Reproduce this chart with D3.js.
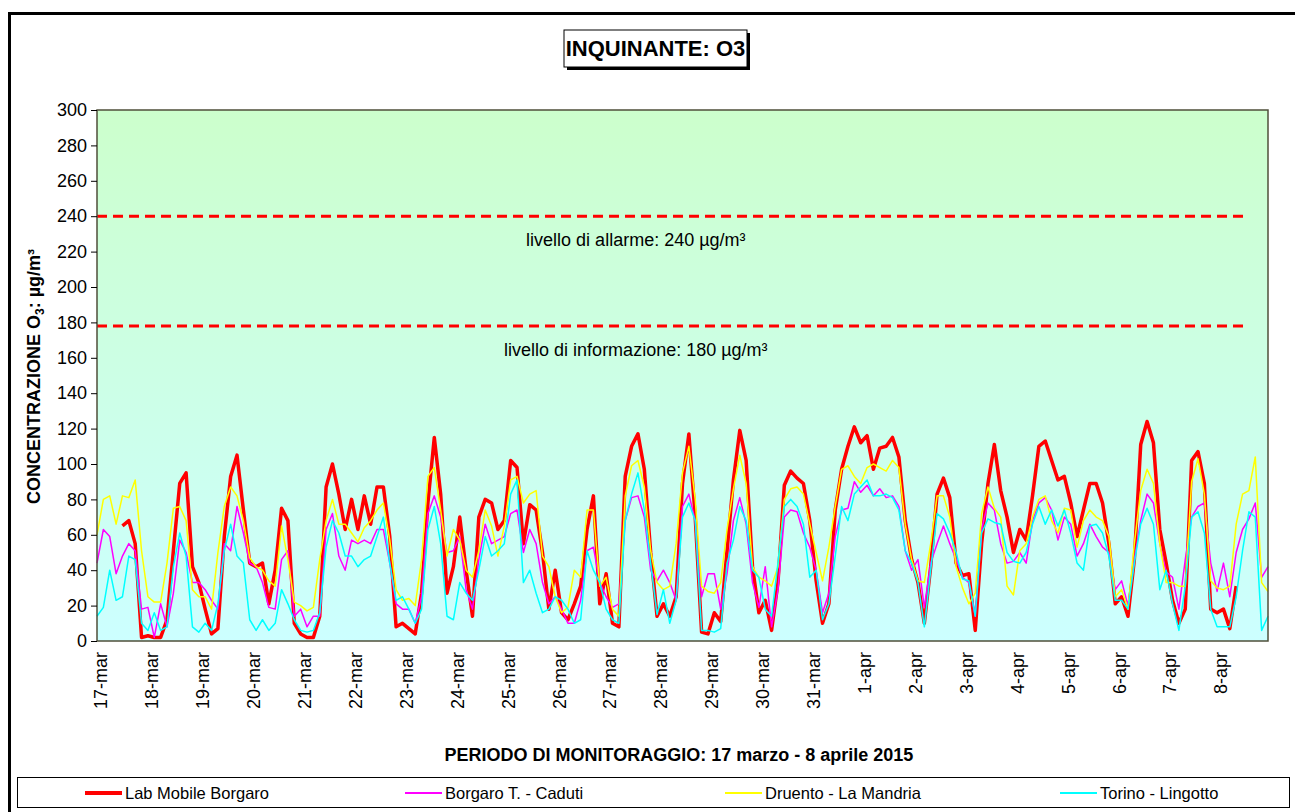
<!DOCTYPE html>
<html lang="it">
<head>
<meta charset="UTF-8">
<title>Inquinante O3</title>
<script src="https://cdn.jsdelivr.net/npm/d3@7"></script>
<style>
  * { margin: 0; padding: 0; }
  body { background: #fff; width: 1295px; height: 812px; overflow: hidden; }
  svg { display: block; font-family: Arial, "Liberation Sans", sans-serif; }
</style>
</head>
<body>
<div id="chart"></div>
<script>
// giorni del periodo (una etichetta per giorno)
var dayLabels = ["17-mar", "18-mar", "19-mar", "20-mar", "21-mar", "22-mar", "23-mar", "24-mar",
  "25-mar", "26-mar", "27-mar", "28-mar", "29-mar", "30-mar", "31-mar", "1-apr", "2-apr",
  "3-apr", "4-apr", "5-apr", "6-apr", "7-apr", "8-apr"];
var stepHours = 3; // un valore ogni 3 ore, 8 per giorno

var yTicks = [0, 20, 40, 60, 80, 100, 120, 140, 160, 180, 200, 220, 240, 260, 280, 300];

// soglie (valore) e testi
var thresholds = [240, 178];
var thresholdLabels = ["livello di allarme: 240 \u00b5g/m\u00b3", "livello di informazione: 180 \u00b5g/m\u00b3"];
var thresholdEndHour = 541;

var seriesNames = ["Lab Mobile Borgaro", "Borgaro T. - Caduti", "Druento - La Mandria", "Torino - Lingotto"];
var seriesColors = ["#ff0000", "#ff00ff", "#ffff00", "#00ffff"];
var seriesWidths = [3.5, 1.5, 1.5, 1.5];

// valori in ug/m3, una riga per giorno
var labMobile = [
  null, null, null, null, 65, 68, 55, 2,
  3, 2, 2, 12, 51, 89, 95, 42,
  33, 18, 4, 7, 59, 93, 105, 74,
  44, 42, 44, 21, 40, 75, 68, 10,
  4, 2, 2, 14, 87, 100, 83, 63,
  80, 63, 82, 66, 87, 87, 59, 8,
  10, 7, 4, 27, 78, 115, 83, 27,
  42, 70, 40, 14, 70, 80, 78, 63,
  68, 102, 98, 55, 77, 74, 50, 18,
  40, 16, 12, 21, 31, 63, 82, 21,
  38, 10, 8, 93, 110, 117, 97, 50,
  14, 21, 14, 25, 89, 117, 70, 5,
  4, 16, 11, 51, 91, 119, 102, 42,
  16, 23, 6, 33, 88, 96, 92, 89,
  68, 34, 10, 21, 74, 97, 110, 121,
  112, 116, 97, 109, 110, 115, 104, 68,
  46, 33, 10, 42, 83, 92, 81, 44,
  37, 38, 6, 55, 89, 111, 85, 70,
  50, 63, 57, 82, 110, 113, 102, 91,
  93, 78, 59, 74, 89, 89, 78, 55,
  21, 25, 14, 46, 111, 124, 112, 63,
  44, 23, 10, 18, 102, 107, 89, 18,
  16, 18, 7, 31, null, null, null, null,
  null];

var borgaroCaduti = [
  44, 63, 59, 38, 48, 55, 51, 18,
  19, 2, 21, 8, 27, 57, 50, 33,
  33, 29, 23, 18, 55, 51, 76, 61,
  44, 42, 33, 19, 18, 46, 51, 14,
  18, 8, 14, 14, 63, 72, 48, 40,
  57, 55, 57, 55, 63, 63, 44, 21,
  18, 18, 10, 25, 72, 82, 70, 50,
  51, 59, 29, 18, 46, 66, 55, 57,
  59, 72, 74, 50, 63, 55, 33, 21,
  25, 18, 10, 10, 23, 51, 53, 33,
  25, 19, 21, 68, 81, 82, 70, 40,
  34, 40, 33, 23, 76, 83, 68, 25,
  38, 38, 18, 38, 68, 81, 66, 33,
  19, 42, 8, 29, 70, 74, 73, 61,
  53, 40, 16, 27, 59, 74, 75, 90,
  84, 88, 82, 86, 81, 82, 76, 51,
  40, 46, 19, 44, 55, 65, 55, 46,
  36, 33, 14, 63, 78, 74, 55, 44,
  45, 50, 44, 68, 78, 81, 74, 57,
  70, 66, 48, 55, 66, 59, 53, 50,
  29, 34, 20, 46, 68, 83, 78, 55,
  39, 36, 18, 46, 70, 76, 78, 44,
  28, 44, 25, 50, 63, 69, 78, 36,
  42];

var druento = [
  60, 80, 82, 66, 82, 81, 91, 51,
  25, 22, 22, 44, 75, 76, 68, 29,
  25, 25, 18, 50, 76, 87, 82, 68,
  47, 42, 40, 34, 31, 65, 46, 22,
  20, 17, 19, 46, 68, 80, 66, 66,
  61, 56, 64, 68, 74, 78, 57, 29,
  23, 24, 20, 46, 93, 98, 74, 48,
  63, 57, 40, 36, 51, 74, 65, 48,
  65, 91, 93, 78, 83, 85, 48, 42,
  25, 16, 19, 40, 36, 74, 74, 31,
  36, 18, 14, 82, 99, 102, 87, 51,
  33, 29, 31, 55, 95, 110, 80, 31,
  28, 27, 33, 63, 86, 105, 89, 42,
  36, 34, 31, 42, 80, 86, 87, 83,
  66, 50, 34, 53, 76, 97, 99, 93,
  89, 98, 100, 98, 96, 102, 98, 66,
  46, 34, 33, 55, 82, 82, 70, 42,
  30, 21, 27, 72, 87, 75, 70, 31,
  26, 51, 55, 70, 80, 82, 68, 61,
  75, 74, 53, 68, 74, 70, 68, 59,
  25, 29, 18, 55, 85, 97, 89, 55,
  33, 33, 31, 31, 90, 103, 83, 34,
  30, 29, 31, 66, 83, 85, 104, 33,
  28];

var lingotto = [
  14, 19, 40, 23, 25, 48, 46, 10,
  6, 16, 6, 8, 42, 61, 48, 8,
  5, 10, 6, 21, 51, 66, 48, 44,
  12, 6, 12, 6, 10, 29, 21, 12,
  6, 5, 6, 16, 53, 68, 61, 48,
  48, 42, 46, 48, 59, 70, 44, 23,
  25, 18, 10, 18, 63, 76, 55, 14,
  12, 33, 27, 23, 40, 59, 48, 51,
  55, 83, 91, 33, 40, 27, 16, 18,
  25, 23, 18, 10, 12, 51, 40, 33,
  18, 12, 10, 68, 83, 95, 74, 44,
  15, 29, 10, 23, 70, 78, 68, 6,
  6, 5, 7, 44, 57, 76, 68, 40,
  36, 18, 14, 44, 76, 80, 76, 66,
  36, 40, 12, 21, 48, 76, 68, 83,
  87, 91, 82, 82, 83, 81, 74, 51,
  44, 33, 8, 40, 72, 69, 61, 50,
  35, 34, 14, 61, 69, 67, 66, 50,
  45, 44, 50, 66, 76, 66, 74, 65,
  74, 61, 44, 40, 65, 66, 61, 48,
  23, 23, 18, 44, 66, 75, 66, 29,
  40, 21, 6, 31, 70, 73, 61, 18,
  8, 8, 8, 25, 51, 73, 70, 6,
  14];

var allSeries = [labMobile, borgaroCaduti, druento, lingotto];

var width = 1295,
    height = 812,
    plotLeft = 97,
    plotRight = 1268,
    plotTop = 110,
    plotBottom = 641;

var svg = d3.select("#chart").append("svg")
    .attr("width", width)
    .attr("height", height);

var x = d3.scaleLinear()
    .domain([0, dayLabels.length * 24])
    .range([plotLeft, plotRight]);

var y = d3.scaleLinear()
    .domain([0, 300])
    .range([plotBottom, plotTop]);

// cornice esterna
svg.append("rect")
    .attr("x", 9.5).attr("y", 13.5)
    .attr("width", width + 20).attr("height", height + 20)
    .attr("fill", "none")
    .attr("stroke", "#000")
    .attr("stroke-width", 3);

// sfondo sfumato dell'area del grafico
var grad = svg.append("defs").append("linearGradient")
    .attr("id", "bg")
    .attr("x1", 0).attr("y1", 0).attr("x2", 0).attr("y2", 1);
grad.append("stop").attr("offset", "0%").attr("stop-color", "#ccffcc");
grad.append("stop").attr("offset", "100%").attr("stop-color", "#ccffff");

svg.append("rect")
    .attr("x", plotLeft).attr("y", plotTop)
    .attr("width", plotRight - plotLeft)
    .attr("height", plotBottom - plotTop)
    .attr("fill", "url(#bg)");

// soglie
svg.selectAll(".soglia")
    .data(thresholds)
    .enter().append("line")
    .attr("class", "soglia")
    .attr("x1", x(0)).attr("x2", x(thresholdEndHour))
    .attr("y1", function(d) { return y(d); })
    .attr("y2", function(d) { return y(d); })
    .attr("stroke", "#ff0000")
    .attr("stroke-width", 3)
    .attr("stroke-dasharray", "10,6");

svg.selectAll(".soglia-label")
    .data(thresholds)
    .enter().append("text")
    .attr("class", "soglia-label")
    .attr("x", x(254))
    .attr("y", function(d) { return y(d) + 30; })
    .attr("text-anchor", "middle")
    .attr("font-size", "18px")
    .text(function(d, i) { return thresholdLabels[i]; });

// serie
var line = d3.line()
    .defined(function(d) { return d !== null; })
    .x(function(d, i) { return x(i * stepHours); })
    .y(function(d) { return y(d); });

allSeries.forEach(function(s, k) {
    svg.append("path")
        .datum(s)
        .attr("fill", "none")
        .attr("stroke", seriesColors[k])
        .attr("stroke-width", seriesWidths[k])
        .attr("stroke-linejoin", "round")
        .attr("d", line);
});

// bordo area grafico
svg.append("rect")
    .attr("x", plotLeft).attr("y", plotTop)
    .attr("width", plotRight - plotLeft)
    .attr("height", plotBottom - plotTop)
    .attr("fill", "none")
    .attr("stroke", "#4f4f3a")
    .attr("stroke-width", 1.5);

// asse y
var yAxis = d3.axisLeft(y)
    .tickValues(yTicks)
    .tickSize(6)
    .tickPadding(4);

var yG = svg.append("g")
    .attr("transform", "translate(" + plotLeft + ",0)")
    .call(yAxis);
yG.select(".domain").remove();
yG.selectAll("text").attr("font-size", "18px").attr("font-family", "Arial, 'Liberation Sans', sans-serif").attr("fill", "#000");
yG.selectAll("line").attr("stroke", "#000");

// etichette dei giorni
svg.selectAll(".giorno")
    .data(dayLabels)
    .enter().append("text")
    .attr("class", "giorno")
    .attr("transform", function(d, i) {
        return "translate(" + (x(i * 24) + 4) + "," + (plotBottom + 11) + ") rotate(-90)";
    })
    .attr("text-anchor", "end")
    .attr("dy", "0.35em")
    .attr("font-size", "18px")
    .text(function(d) { return d; });

// titolo asse y
var yTitle = svg.append("text")
    .attr("transform", "translate(40," + ((plotTop + plotBottom) / 2 + 1) + ") rotate(-90)")
    .attr("text-anchor", "middle")
    .attr("font-size", "18px")
    .attr("font-weight", "bold");
yTitle.append("tspan").text("CONCENTRAZIONE O");
yTitle.append("tspan").attr("font-size", "12px").attr("dy", "4").text("3");
yTitle.append("tspan").attr("dy", "-4").text(": \u00b5g/m\u00b3");

// titolo asse x
svg.append("text")
    .attr("x", 679).attr("y", 761)
    .attr("text-anchor", "middle")
    .attr("font-size", "18px")
    .attr("font-weight", "bold")
    .text("PERIODO DI MONITORAGGIO: 17 marzo - 8 aprile 2015");

// titolo con ombra
svg.append("rect")
    .attr("x", 567).attr("y", 33).attr("width", 183).attr("height", 37)
    .attr("fill", "#000");
svg.append("rect")
    .attr("x", 564).attr("y", 30).attr("width", 183).attr("height", 37)
    .attr("fill", "#fff").attr("stroke", "#000").attr("stroke-width", 1);
svg.append("text")
    .attr("x", 655.5).attr("y", 56)
    .attr("text-anchor", "middle")
    .attr("font-size", "22px")
    .attr("font-weight", "bold")
    .text("INQUINANTE: O3");

// legenda
svg.append("rect")
    .attr("x", 17.5).attr("y", 777.5).attr("width", 1272).attr("height", 30)
    .attr("fill", "#fff").attr("stroke", "#000").attr("stroke-width", 1);

var legendX = [85, 405, 725, 1060];
var leg = svg.selectAll(".leg")
    .data(seriesNames)
    .enter().append("g")
    .attr("class", "leg")
    .attr("transform", function(d, i) { return "translate(" + legendX[i] + ",793)"; });
leg.append("line")
    .attr("x1", 0).attr("x2", 37)
    .attr("stroke", function(d, i) { return seriesColors[i]; })
    .attr("stroke-width", function(d, i) { return seriesWidths[i] + 0.5; });
leg.append("text")
    .attr("x", 40)
    .attr("dy", "0.35em")
    .attr("font-size", "16.5px")
    .text(function(d) { return d; });
</script>
</body>
</html>
